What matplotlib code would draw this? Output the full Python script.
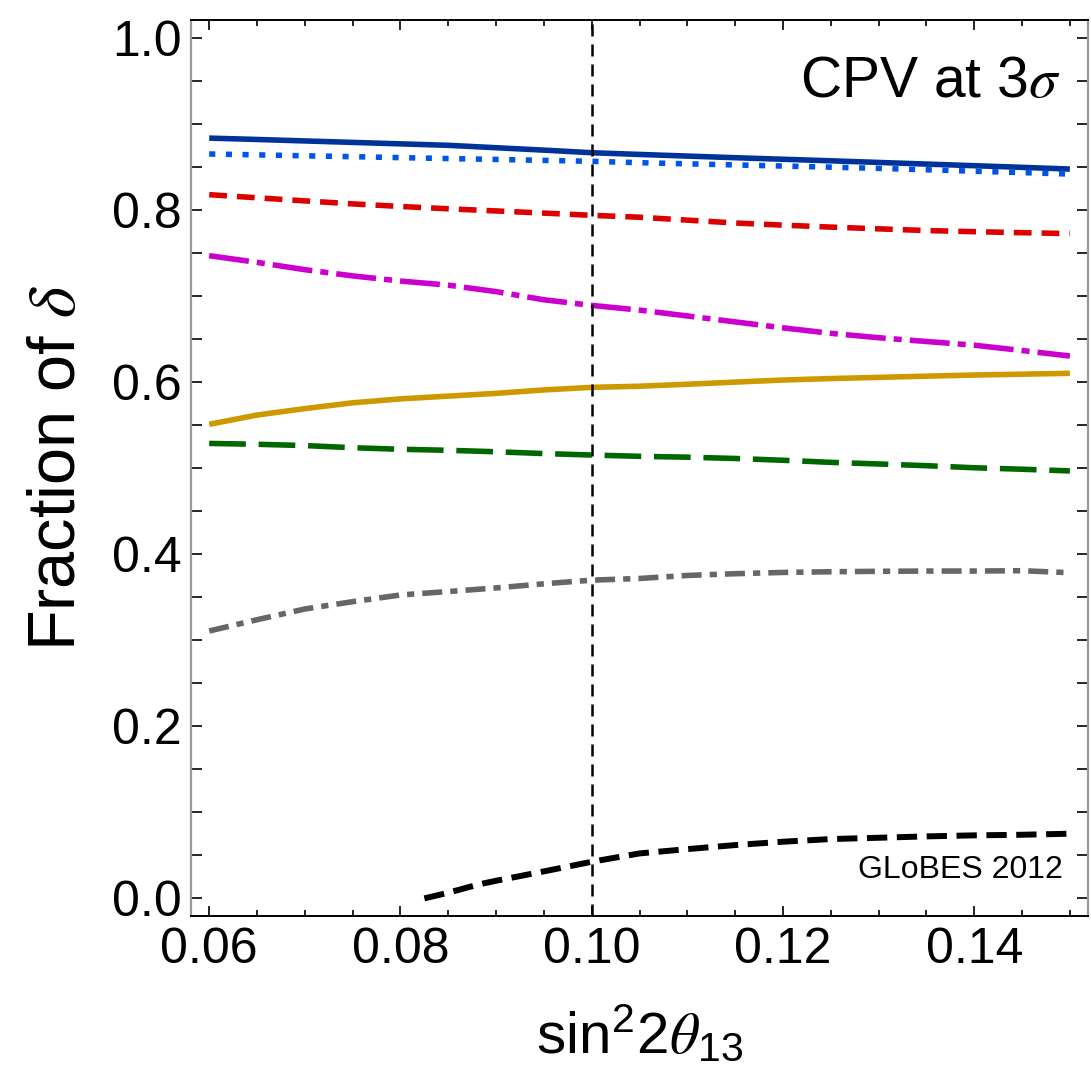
import matplotlib
matplotlib.use("Agg")
import matplotlib.pyplot as plt
from matplotlib.ticker import MultipleLocator, FormatStrFormatter

plt.rcParams["font.family"] = ["Liberation Sans", "DejaVu Sans"]
plt.rcParams["mathtext.fontset"] = "custom"
plt.rcParams["mathtext.rm"] = "Liberation Sans"
plt.rcParams["mathtext.it"] = "STIXGeneral:italic"
plt.rcParams["mathtext.bf"] = "Liberation Sans:bold"

# sin^2(2 theta_13) grid
s2t13 = [0.060, 0.065, 0.070, 0.075, 0.080, 0.085, 0.090, 0.095, 0.100, 0.105,
         0.110, 0.115, 0.120, 0.125, 0.130, 0.135, 0.140, 0.145, 0.150]

# CP-violation discovery fraction at 3 sigma, one list per setup
frac_blue_solid = [0.884, 0.8824, 0.8807, 0.879, 0.8773, 0.8756, 0.8728, 0.870, 0.867, 0.865,
                   0.8631, 0.8612, 0.8594, 0.8576, 0.8557, 0.8538, 0.8519, 0.850, 0.848]
frac_blue_dotted = [0.8655, 0.8645, 0.8634, 0.8624, 0.8613, 0.8602, 0.8592, 0.8581, 0.857, 0.8554,
                    0.8541, 0.8528, 0.8515, 0.8502, 0.8488, 0.8472, 0.8455, 0.8439, 0.8422]
frac_red = [0.8182, 0.8146, 0.8110, 0.8075, 0.8045, 0.8018, 0.7993, 0.7968, 0.7942, 0.792,
            0.7886, 0.7853, 0.7828, 0.7805, 0.7785, 0.7765, 0.7752, 0.774, 0.773]
frac_magenta = [0.7473, 0.7395, 0.7310, 0.7238, 0.7178, 0.7130, 0.7055, 0.6960, 0.6895, 0.6840,
                0.6772, 0.6703, 0.6634, 0.6570, 0.6519, 0.6475, 0.6432, 0.6370, 0.6306]
frac_gold = [0.5512, 0.5620, 0.5695, 0.5762, 0.5808, 0.5840, 0.5872, 0.5912, 0.5942, 0.5955,
             0.5978, 0.6003, 0.6027, 0.6044, 0.6058, 0.6072, 0.6085, 0.6095, 0.6105]
frac_green = [0.5290, 0.5280, 0.5265, 0.5240, 0.5222, 0.5210, 0.5193, 0.5172, 0.5155, 0.5140,
              0.5130, 0.5115, 0.5094, 0.5070, 0.5051, 0.5031, 0.5007, 0.4990, 0.4970]
frac_gray = [0.3109, 0.3240, 0.3365, 0.3450, 0.3528, 0.3568, 0.3610, 0.3658, 0.3700, 0.3720,
             0.3755, 0.3775, 0.3790, 0.3798, 0.3803, 0.3806, 0.3806, 0.3810, 0.3787]

s2t13_black = [0.0825, 0.085, 0.0882, 0.090, 0.095, 0.100, 0.105, 0.110, 0.115, 0.120,
               0.125, 0.130, 0.135, 0.140, 0.145, 0.150]
frac_black = [0.0, 0.0066, 0.0163, 0.0205, 0.0314, 0.0426, 0.0523, 0.0573, 0.0620, 0.0659,
              0.0690, 0.0705, 0.0721, 0.0733, 0.0740, 0.0752]

x_ticks = [0.06, 0.08, 0.10, 0.12, 0.14]
y_ticks = [0.0, 0.2, 0.4, 0.6, 0.8, 1.0]
reference_s2t13 = 0.10

fig = plt.figure(figsize=(10.91, 10.70), dpi=100)
ax = fig.add_axes([0.1751, 0.1439, 0.8222, 0.8374])

lw = 4.0
common = dict(lw=lw, solid_capstyle="butt", dash_capstyle="butt")
ax.plot(s2t13, frac_blue_solid, color="#003399", **common)
ax.plot(s2t13, frac_blue_dotted, color="#0055E8", dashes=(1.1, 1.9), **common)
ax.plot(s2t13, frac_red, color="#DD0000", dashes=(3.2, 1.8), **common)
ax.plot(s2t13, frac_magenta, color="#CC00CC", dashes=(7.2, 1.45, 1.45, 1.45), **common)
ax.plot(s2t13, frac_gold, color="#CC9900", **common)
ax.plot(s2t13, frac_green, color="#006600", dashes=(6.6, 2.3), **common)
ax.plot(s2t13, frac_gray, color="#666666", dashes=(3.6, 1.45, 1.3, 1.45), **common)
ax.plot(s2t13_black, frac_black, color="black", lw=4.3, dashes=(3.4, 1.6),
        solid_capstyle="butt", dash_capstyle="butt")

ax.axvline(reference_s2t13, color="black", lw=1.8, dashes=(4.8, 3.2), zorder=5)

ax.set_xlim(0.0581, 0.1519)
ax.set_ylim(-0.0205, 1.0213)

ax.set_xticks(x_ticks)
ax.xaxis.set_minor_locator(MultipleLocator(0.005))
ax.xaxis.set_major_formatter(FormatStrFormatter("%.2f"))
ax.set_yticks(y_ticks)
ax.yaxis.set_minor_locator(MultipleLocator(0.05))
ax.yaxis.set_major_formatter(FormatStrFormatter("%.1f"))

ax.tick_params(which="both", direction="in", top=True, right=True,
               color="black", width=1.2, labelsize=36)
ax.tick_params(axis="x", which="major", length=7.5, pad=8)
ax.tick_params(axis="x", which="minor", length=4.5)
ax.tick_params(axis="y", which="both", length=8, pad=6.5)

for side in ("left", "right"):
    ax.spines[side].set_color("#999999")
    ax.spines[side].set_linewidth(1.6)
for side in ("top", "bottom"):
    ax.spines[side].set_color("black")
    ax.spines[side].set_linewidth(1.4)

ax.set_xlabel(r"sin$^2$2$\theta_{13}$", fontsize=42, va="baseline")
ax.xaxis.set_label_coords(0.5, -0.1529)
ax.set_ylabel(r"Fraction of $\delta$", fontsize=48, va="baseline")
ax.yaxis.set_label_coords(-0.1293, 0.5)

ax.text(0.9688, 0.914, r"CPV at 3$\sigma$", transform=ax.transAxes,
        ha="right", va="baseline", fontsize=41)
ax.text(0.9721, 0.0424, "GLoBES 2012", transform=ax.transAxes,
        ha="right", va="baseline", fontsize=23)

fig.savefig("out.png", dpi=100)
